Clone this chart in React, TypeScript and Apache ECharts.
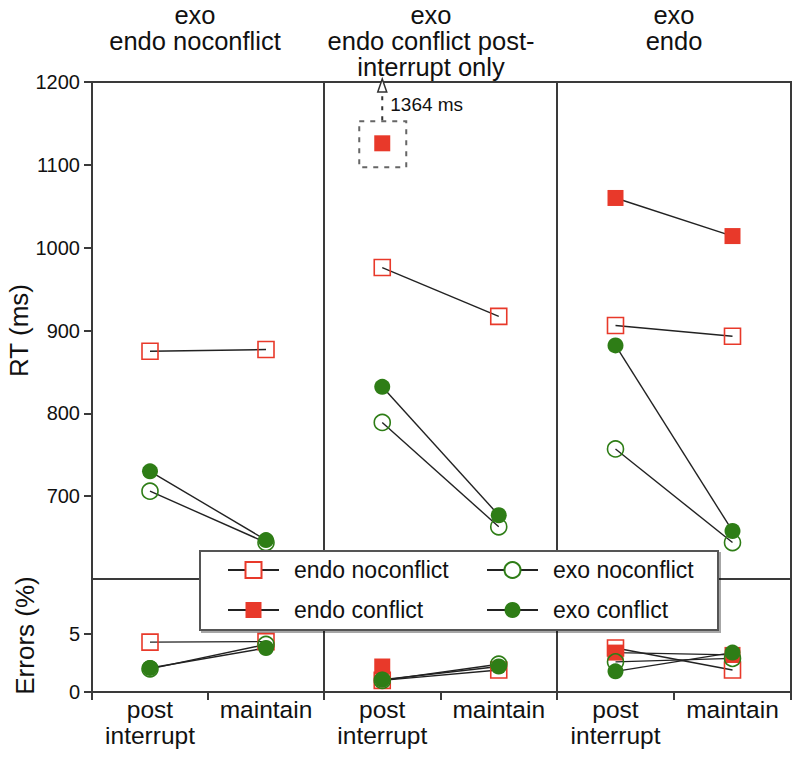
import React, { useEffect, useRef } from 'react';
import * as echarts from 'echarts';

// ---------- data ----------
const PANEL_TITLES = ['exo\nendo noconflict', 'exo\nendo conflict post-\ninterrupt only', 'exo\nendo'];
const CONDITIONS = ['post\ninterrupt', 'maintain'];
const SERIES_NAMES = ['endo noconflict', 'endo conflict', 'exo noconflict', 'exo conflict'];
const RT_TICKS = [700, 800, 900, 1000, 1100, 1200];
const ERR_TICKS = [0, 5];

// RT (ms), per panel: [post interrupt, maintain]
const rtEndoNoconflict = [[875, 877], [976, 917], [906, 893]];
const rtEndoConflict = [[null, null], [1126, null], [1060, 1014]];
const rtExoNoconflict = [[706, 644], [789, 663], [757, 644]];
const rtExoConflict = [[730, 647], [832, 677], [882, 658]];

// Errors (%), per panel: [post interrupt, maintain]
const errEndoNoconflict = [[4.3, 4.35], [1.0, 1.9], [3.8, 1.9]];
const errEndoConflict = [[null, null], [2.2, null], [3.4, 3.2]];
const errExoNoconflict = [[2.0, 4.1], [1.0, 2.4], [2.6, 2.9]];
const errExoConflict = [[2.07, 3.8], [1.06, 2.2], [1.78, 3.4]];

// the off-scale point (panel 2, endo conflict, post interrupt) and its true value
const OFFSCALE_PANEL = 1;
const OFFSCALE_SERIES = 1;
const OFFSCALE_LABEL = '1364 ms';

const RT_SETS = [rtEndoNoconflict, rtEndoConflict, rtExoNoconflict, rtExoConflict];
const ERR_SETS = [errEndoNoconflict, errEndoConflict, errExoNoconflict, errExoConflict];

// ---------- styling ----------
const RED = '#E8392A';
const GREEN = '#2E7D16';
const SERIES_COLOR = [RED, RED, GREEN, GREEN];
const SERIES_FILLED = [false, true, false, true];
const SERIES_SYMBOL = ['rect', 'rect', 'circle', 'circle'];
const FONT = '"Liberation Sans", Arial, Helvetica, sans-serif';
const FRAME = '#3a3a3a';

const LEFTS = [92, 324, 557];
const WIDTHS = [232, 233, 234];
const TOP_Y = 82;
const TOP_H = 497;
const BOT_Y = 579;
const BOT_H = 113;
const TITLE_X = [195, 431, 674];

function itemStyle(s: number) {
  return SERIES_FILLED[s]
    ? { color: SERIES_COLOR[s], borderWidth: 0 }
    : { color: 'rgba(255,255,255,0)', borderColor: SERIES_COLOR[s], borderWidth: 1.6 };
}

export default function App() {
  const ref = useRef<HTMLDivElement>(null);

  useEffect(() => {
    document.body.style.margin = '0';
    if (!ref.current) return;
    const chart = echarts.init(ref.current, null, { renderer: 'svg' });

    const grids: any[] = [];
    const xAxes: any[] = [];
    const yAxes: any[] = [];
    for (let row = 0; row < 2; row++) {
      for (let p = 0; p < 3; p++) {
        const gi = row * 3 + p;
        grids.push({
          left: LEFTS[p],
          width: WIDTHS[p],
          top: row === 0 ? TOP_Y : BOT_Y,
          height: row === 0 ? TOP_H : BOT_H,
          show: true,
          borderColor: FRAME,
          borderWidth: 2,
          backgroundColor: 'transparent',
          containLabel: false,
        });
        xAxes.push({
          type: 'category',
          gridIndex: gi,
          data: CONDITIONS,
          boundaryGap: true,
          show: row === 1,
          axisLine: { show: true, lineStyle: { color: FRAME, width: 2 } },
          axisTick: { show: true, length: 8, inside: false, lineStyle: { color: FRAME, width: 2 } },
          axisLabel: {
            interval: 0,
            fontSize: 24.5,
            lineHeight: 25.5,
            margin: 5,
            color: '#111',
            fontFamily: FONT,
          },
          splitLine: { show: false },
        });
        const isRT = row === 0;
        yAxes.push({
          type: 'value',
          gridIndex: gi,
          min: isRT ? 600 : 0,
          max: isRT ? 1200 : 9.75,
          show: p === 0,
          name: p === 0 ? (isRT ? 'RT (ms)' : 'Errors (%)') : '',
          nameLocation: 'middle',
          nameGap: 54,
          nameTextStyle: { fontSize: 26, color: '#111', fontFamily: FONT },
          axisLine: { show: true, lineStyle: { color: FRAME, width: 2 } },
          axisTick: {
            show: true,
            length: 8,
            lineStyle: { color: FRAME, width: 2 },
            customValues: isRT ? RT_TICKS : ERR_TICKS,
          },
          axisLabel: {
            fontSize: 20,
            color: '#111',
            margin: 12,
            fontFamily: FONT,
            customValues: isRT ? RT_TICKS : ERR_TICKS,
            formatter: (v: number) => String(v),
          },
          splitLine: { show: false },
        });
      }
    }

    const series: any[] = [];
    for (let row = 0; row < 2; row++) {
      const sets = row === 0 ? RT_SETS : ERR_SETS;
      for (let p = 0; p < 3; p++) {
        for (let s = 0; s < 4; s++) {
          const gi = row * 3 + p;
          series.push({
            id: `r${row}-p${p}-s${s}`,
            type: 'line',
            name: SERIES_NAMES[s],
            xAxisIndex: gi,
            yAxisIndex: gi,
            data: sets[s][p],
            symbol: SERIES_SYMBOL[s],
            symbolSize: 16,
            showSymbol: true,
            showAllSymbol: true,
            connectNulls: false,
            itemStyle: itemStyle(s),
            lineStyle: { color: '#222', width: 1.4 },
            emphasis: { disabled: true },
            silent: true,
            z: 2,
          });
        }
      }
    }

    const legendCommon = {
      orient: 'vertical',
      top: 557,
      itemWidth: 51,
      itemHeight: 20,
      itemGap: 14,
      padding: 0,
      selectedMode: false,
      z: 10,
      textStyle: {
        fontSize: 23,
        lineHeight: 26,
        color: '#111',
        fontFamily: FONT,
        padding: [0, 0, 0, 10],
      },
    };
    const legendItem = (s: number) =>
      SERIES_FILLED[s]
        ? { name: SERIES_NAMES[s] }
        : { name: SERIES_NAMES[s], itemStyle: { color: '#fff' } };

    const baseGraphic: any[] = [
      {
        id: 'legendBox',
        type: 'rect',
        z: 8,
        shape: { x: 200, y: 551, width: 518, height: 79 },
        style: {
          fill: '#fff',
          stroke: '#555',
          lineWidth: 2,
          shadowColor: 'rgba(0,0,0,0.35)',
          shadowOffsetX: 2,
          shadowOffsetY: 2,
          shadowBlur: 1,
        },
      },
    ];
    PANEL_TITLES.forEach((t, i) => {
      t.split('\n').forEach((line, j) => {
        baseGraphic.push({
          id: `title${i}-${j}`,
          type: 'text',
          x: TITLE_X[i],
          y: 2 + j * 26,
          z: 10,
          style: {
            text: line,
            fontSize: 25.5,
            fontFamily: FONT,
            fill: '#111',
            align: 'center',
            textAlign: 'center',
            verticalAlign: 'top',
          },
        });
      });
    });

    chart.setOption({
      animation: false,
      backgroundColor: '#fff',
      grid: grids,
      xAxis: xAxes,
      yAxis: yAxes,
      series,
      legend: [
        { ...legendCommon, left: 227, data: [legendItem(0), legendItem(1)] },
        { ...legendCommon, left: 486, data: [legendItem(2), legendItem(3)] },
      ],
      graphic: baseGraphic,
    });

    // annotation around the off-scale point, positioned via the chart's own scales
    const v = RT_SETS[OFFSCALE_SERIES][OFFSCALE_PANEL][0] as number;
    const pt = chart.convertToPixel({ xAxisIndex: OFFSCALE_PANEL, yAxisIndex: OFFSCALE_PANEL }, [0, v]) as number[];
    const topPt = chart.convertToPixel({ xAxisIndex: OFFSCALE_PANEL, yAxisIndex: OFFSCALE_PANEL }, [0, 1200]) as number[];
    if (pt && topPt) {
      const [cx, cy] = pt;
      const top = topPt[1];
      chart.setOption({
        graphic: [
          ...baseGraphic,
          {
            id: 'offBox',
            type: 'rect',
            z: 6,
            shape: { x: cx - 23, y: cy - 22, width: 47, height: 46 },
            style: { fill: 'none', stroke: '#666', lineWidth: 2, lineDash: [5, 6] },
          },
          {
            id: 'offStem',
            type: 'line',
            z: 6,
            shape: { x1: cx, y1: cy - 23, x2: cx, y2: top + 11 },
            style: { stroke: '#333', lineWidth: 2, lineDash: [4, 6] },
          },
          {
            id: 'offHead',
            type: 'polygon',
            z: 7,
            shape: { points: [[cx, top - 3], [cx - 4.5, top + 10], [cx + 4.5, top + 10]] },
            style: { fill: '#fff', stroke: '#333', lineWidth: 1.5 },
          },
          {
            id: 'offText',
            type: 'text',
            z: 7,
            x: cx + 8,
            y: top + 22,
            style: {
              text: OFFSCALE_LABEL,
              fontSize: 19,
              fontFamily: FONT,
              fill: '#111',
              align: 'left',
              verticalAlign: 'middle',
            },
          },
        ],
      });
    }

    return () => {
      chart.dispose();
    };
  }, []);

  return <div ref={ref} style={{ width: 800, height: 762 }} />;
}
